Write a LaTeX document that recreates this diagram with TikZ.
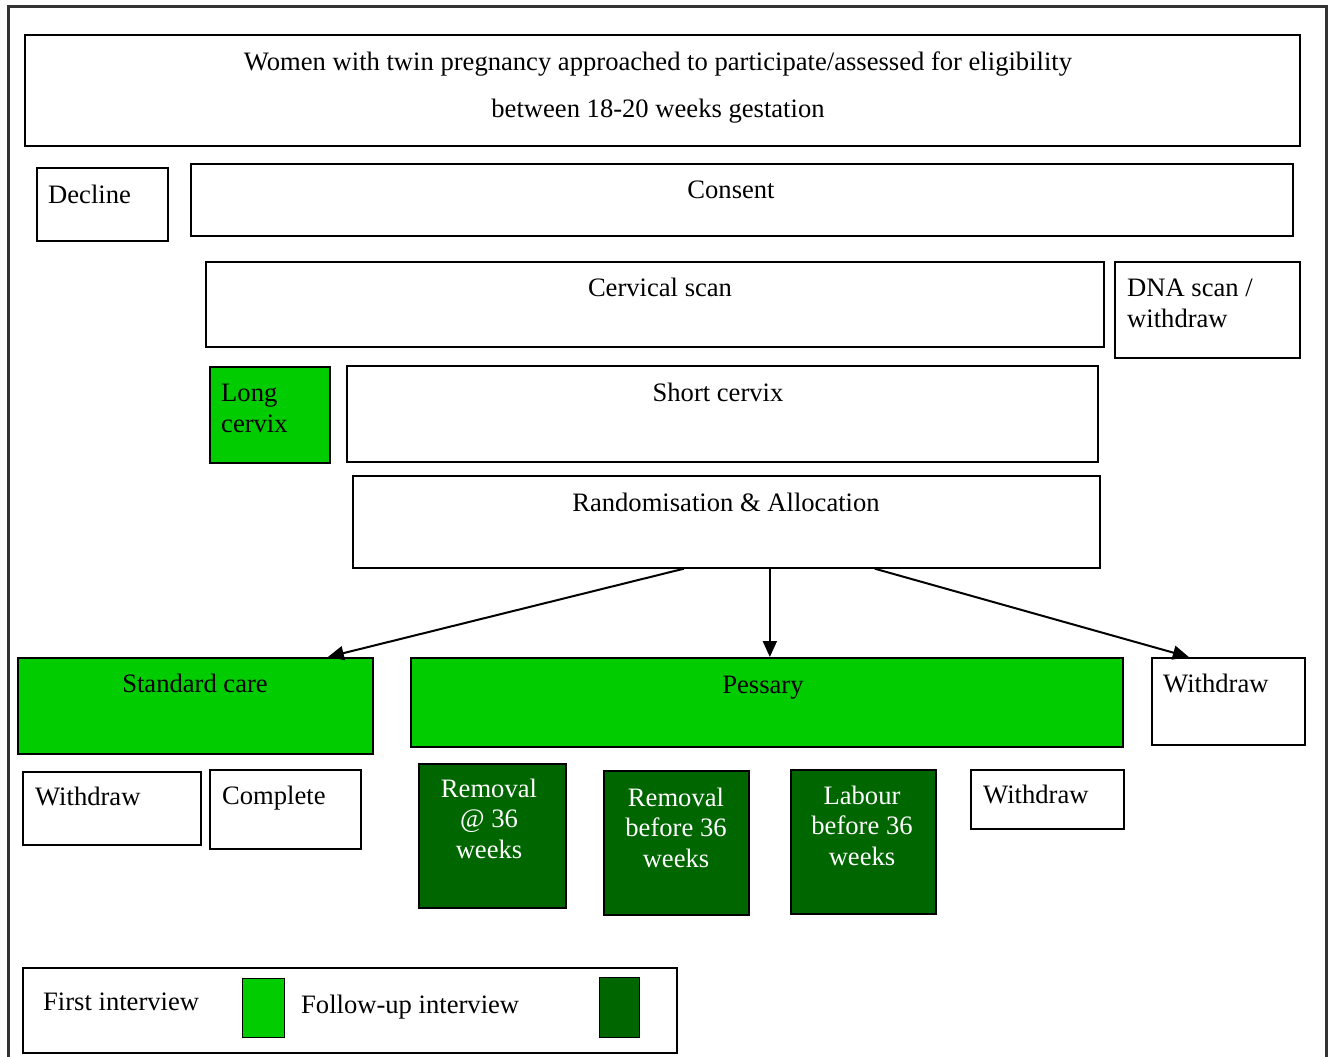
\documentclass[tikz,border=0pt]{standalone}
\usepackage{fontspec}
\setmainfont{Liberation Serif}
\usetikzlibrary{arrows.meta}
\definecolor{firstgreen}{HTML}{00CC00}
\definecolor{followgreen}{HTML}{006600}

\begin{document}
\begin{tikzpicture}[
		x=1pt, y=-1pt,
		every node/.style={font=\fontsize{26.6pt}{30.5pt}\selectfont},
		box/.style={draw, line width=1.7pt, inner sep=0pt, anchor=north west},
		size/.style 2 args={minimum width=#1pt, minimum height=#2pt},
		firstbox/.style={box, fill=firstgreen},
		followbox/.style={box, fill=followgreen},
		lefttxt/.style={anchor=base west, inner sep=0pt},
		midtxt/.style={anchor=base, inner sep=0pt, align=center},
		flow/.style={line width=2pt, -{Triangle[length=16pt,width=14pt]}}
		]
		\useasboundingbox (0,0) rectangle (1330,1057);
		\draw [line width=3pt, black!80] (8,1075) -- (8,7) -- (1326,7) -- (1326,1075);
		
		% Kaesten
		\node[box, size={1275}{111}] (women) at (24,34) {};
		\node[box, size={131}{73}] (decline) at (36,167) {};
		\node[box, size={1102}{72}] (consent) at (190,163) {};
		\node[box, size={898}{85}] (cervscan) at (205,261) {};
		\node[box, size={185}{96}] (dna) at (1114,261) {};
		\node[firstbox, size={120}{96}] (longcx) at (209,366) {};
		\node[box, size={751}{96}] (shortcx) at (346,365) {};
		\node[box, size={747}{92}] (rand) at (352,475) {};
		\node[firstbox, size={355}{96}] (stdcare) at (17,657) {};
		\node[firstbox, size={712}{89}] (pessary) at (410,657) {};
		\node[box, size={153}{87}] (wdright) at (1151,657) {};
		\node[box, size={178}{73}] (wdstd) at (22,771) {};
		\node[box, size={151}{79}] (complete) at (209,769) {};
		\node[followbox, size={147}{144}] (rem36) at (418,763) {};
		\node[followbox, size={145}{144}] (remb36) at (603,770) {};
		\node[followbox, size={145}{144}] (labb36) at (790,769) {};
		\node[box, size={153}{59}] (wdpess) at (970,769) {};
		\node[box, size={654}{85}] (legend) at (22,967) {};
		\node[firstbox, size={42}{59}, line width=1pt] (keyfirst) at (242,978) {};
		\node[followbox, size={40}{60}, line width=1pt] (keyfollow) at (599,977) {};
		
		% Texte (bei mehreren Zeilen: Grundlinie der letzten Zeile)
		\node[midtxt] (womentxt) at (658,117) {Women with twin pregnancy approached to participate/assessed for eligibility\\[16.5pt]between 18-20 weeks gestation};
		\node[lefttxt] (declinetxt) at (48,203) {Decline};
		\node[midtxt] (consenttxt) at (731,198) {Consent};
		\node[midtxt] (cervscantxt) at (660,296) {Cervical scan};
		\node[lefttxt, align=left] (dnatxt) at (1127,327) {DNA scan /\\withdraw};
		\node[lefttxt, align=left] (longcxtxt) at (221,432) {Long\\cervix};
		\node[midtxt] (shortcxtxt) at (718,401) {Short cervix};
		\node[midtxt] (randtxt) at (726,511) {Randomisation \& Allocation};
		\node[midtxt] (stdcaretxt) at (195,692) {Standard care};
		\node[midtxt] (pessarytxt) at (763,693) {Pessary};
		\node[lefttxt] (wdrighttxt) at (1163,692) {Withdraw};
		\node[lefttxt] (wdstdtxt) at (35,805) {Withdraw};
		\node[lefttxt] (completetxt) at (222,804) {Complete};
		\node[midtxt, text=white] (rem36txt) at (489,858) {Removal\\@ 36\\weeks};
		\node[midtxt, text=white] (remb36txt) at (676,867) {Removal\\before 36\\weeks};
		\node[midtxt, text=white] (labb36txt) at (862,865) {Labour\\before 36\\weeks};
		\node[lefttxt] (wdpesstxt) at (983,803) {Withdraw};
		\node[lefttxt] (firsttxt) at (43,1010) {First interview};
		\node[lefttxt] (followtxt) at (301,1013) {Follow-up interview};
		
		% Pfeile
		\draw [flow] ([xshift=-42.5pt]rand.south) -- ([xshift=132.5pt]stdcare.north);
		\draw [flow] ([xshift=43.5pt]rand.south) -- ([xshift=3pt]pessary.north);
		\draw [flow] ([xshift=148.5pt]rand.south) -- ([xshift=-39.5pt]wdright.north);
		
	\end{tikzpicture}
\end{document}
